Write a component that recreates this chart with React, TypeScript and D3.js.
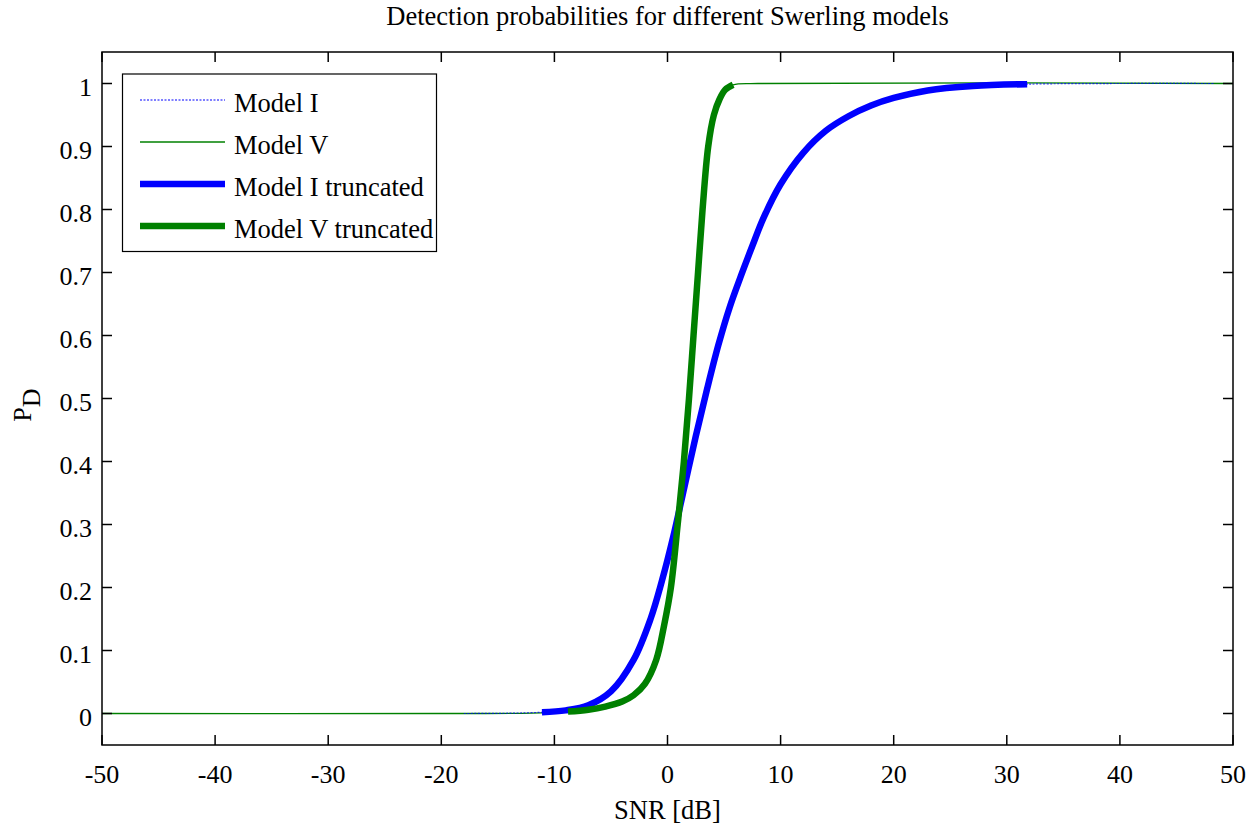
import React from "react";
import * as d3 from "d3";

// ---- data ----
const xTicks = [-50, -40, -30, -20, -10, 0, 10, 20, 30, 40, 50];
const yTicks = [0, 0.1, 0.2, 0.3, 0.4, 0.5, 0.6, 0.7, 0.8, 0.9, 1];
const legendLabels = ["Model I", "Model V", "Model I truncated", "Model V truncated"];

// Model I truncated (thick)
const modelITruncX = [-11.1, -9, -7, -5, -3, -1.5, -0.5, 0.5, 1.5, 2.5, 3.5, 4.5, 5.5, 6.5, 7.5, 8.5, 10, 12, 14, 16, 18, 20, 23, 27, 31.8];
const modelITruncY = [0.002, 0.005, 0.013, 0.035, 0.085, 0.15, 0.21, 0.28, 0.36, 0.44, 0.515, 0.585, 0.645, 0.695, 0.742, 0.787, 0.84, 0.89, 0.925, 0.948, 0.965, 0.977, 0.989, 0.996, 0.999];

// Model I (full, thin dotted)
const modelIX = [-18, -14, -11.1, -9, -7, -5, -3, -1.5, -0.5, 0.5, 1.5, 2.5, 3.5, 4.5, 5.5, 6.5, 7.5, 8.5, 10, 12, 14, 16, 18, 20, 23, 27, 31.8, 40, 48.4];
const modelIY = [0, 0.0005, 0.002, 0.005, 0.013, 0.035, 0.085, 0.15, 0.21, 0.28, 0.36, 0.44, 0.515, 0.585, 0.645, 0.695, 0.742, 0.787, 0.84, 0.89, 0.925, 0.948, 0.965, 0.977, 0.989, 0.996, 0.999, 1, 1];

// Model V truncated (thick)
const modelVTruncX = [-8.8, -7, -5.5, -4, -3, -2, -1, -0.3, 0.3, 0.9, 1.45, 1.9, 2.3, 2.7, 3.1, 3.6, 4.1, 4.6, 5.1, 5.8];
const modelVTruncY = [0.003, 0.006, 0.011, 0.019, 0.029, 0.047, 0.085, 0.14, 0.2, 0.3, 0.4, 0.5, 0.6, 0.7, 0.8, 0.9, 0.95, 0.975, 0.99, 0.998];

// Model V (full, thin solid)
const modelVX = [-50, -20, -12, -8.8, -7, -5.5, -4, -3, -2, -1, -0.3, 0.3, 0.9, 1.45, 1.9, 2.3, 2.7, 3.1, 3.6, 4.1, 4.6, 5.1, 5.8, 8, 50];
const modelVY = [0, 0, 0.0005, 0.003, 0.006, 0.011, 0.019, 0.029, 0.047, 0.085, 0.14, 0.2, 0.3, 0.4, 0.5, 0.6, 0.7, 0.8, 0.9, 0.95, 0.975, 0.99, 0.998, 1, 1];

const BLUE = "#0000ff";
const GREEN = "#008000";
const FONT = "'Liberation Serif', 'Times New Roman', serif";

export default function App() {
  const W = 1260, H = 829;
  const L = 102, R = 1233, T = 52, B = 745;
  const x = d3.scaleLinear().domain([-50, 50]).range([L, R]);
  const y = d3.scaleLinear().domain([-0.05, 1.05]).range([B, T]);
  const line = d3.line<[number, number]>().x(d => x(d[0])).y(d => y(d[1])).curve(d3.curveCatmullRom.alpha(0.5));
  const zip = (a: number[], b: number[]) => a.map((v, i) => [v, b[i]] as [number, number]);

  const tickLen = 10;
  const legendX0 = 140, legendX1 = 225, legendTextX = 234;
  const legendYs = [100, 142, 184, 226];
  const legendStyles = [
    { stroke: BLUE, width: 1.2, dash: "2,1.5" },
    { stroke: GREEN, width: 1.3, dash: undefined },
    { stroke: BLUE, width: 6.5, dash: undefined },
    { stroke: GREEN, width: 6.5, dash: undefined },
  ];

  return (
    <svg width={W} height={H} style={{ position: "absolute", left: 0, top: 0, background: "#fff" }} fontFamily={FONT}>
      <rect x={0} y={0} width={W} height={H} fill="#fff" />
      <defs>
        <clipPath id="plotclip"><rect x={L} y={T} width={R - L} height={B - T} /></clipPath>
      </defs>
      {/* title */}
      <text x={(L + R) / 2} y={25} fontSize={26.5} textAnchor="middle" fill="#000">Detection probabilities for different Swerling models</text>

      {/* curves */}
      <g clipPath="url(#plotclip)" fill="none">
        <path d={line(zip(modelVX, modelVY)) || ""} stroke={GREEN} strokeWidth={1.3} />
        <path d={line(zip(modelIX, modelIY)) || ""} stroke={BLUE} strokeWidth={1.2} strokeDasharray="2,1.5" opacity={0.75} />
        <path d={line(zip(modelITruncX, modelITruncY)) || ""} stroke={BLUE} strokeWidth={6.5} />
        <path d={line(zip(modelVTruncX, modelVTruncY)) || ""} stroke={GREEN} strokeWidth={6.5} />
      </g>

      {/* axes box */}
      <rect x={L} y={T} width={R - L} height={B - T} fill="none" stroke="#000" strokeWidth={1.5} />
      {xTicks.map(t => (
        <g key={"x" + t}>
          <line x1={x(t)} x2={x(t)} y1={B} y2={B - tickLen} stroke="#000" strokeWidth={1.5} />
          <line x1={x(t)} x2={x(t)} y1={T} y2={T + tickLen} stroke="#000" strokeWidth={1.5} />
          <text x={x(t)} y={783} fontSize={26} textAnchor="middle" fill="#000">{String(t)}</text>
        </g>
      ))}
      {yTicks.map(t => (
        <g key={"y" + t}>
          <line x1={L} x2={L + tickLen} y1={y(t)} y2={y(t)} stroke="#000" strokeWidth={1.5} />
          <line x1={R} x2={R - tickLen} y1={y(t)} y2={y(t)} stroke="#000" strokeWidth={1.5} />
          <text x={92} y={y(t) + 12.5} fontSize={26} textAnchor="end" fill="#000">{d3.format("~g")(t)}</text>
        </g>
      ))}

      {/* axis labels */}
      <text x={(L + R) / 2} y={819} fontSize={26.5} textAnchor="middle" fill="#000">SNR [dB]</text>
      <text transform="translate(31,405) rotate(-90)" fontSize={26} textAnchor="middle" fill="#000">
        P<tspan dy={9}>D</tspan>
      </text>

      {/* legend */}
      <rect x={122.5} y={74} width={314} height={177.5} fill="#fff" stroke="#000" strokeWidth={1.2} />
      {legendLabels.map((lab, i) => (
        <g key={lab}>
          <line x1={legendX0} x2={legendX1} y1={legendYs[i]} y2={legendYs[i]} stroke={legendStyles[i].stroke}
            strokeWidth={legendStyles[i].width} strokeDasharray={legendStyles[i].dash} />
          <text x={legendTextX} y={legendYs[i] + 12} fontSize={26.5} fill="#000">{lab}</text>
        </g>
      ))}
    </svg>
  );
}
